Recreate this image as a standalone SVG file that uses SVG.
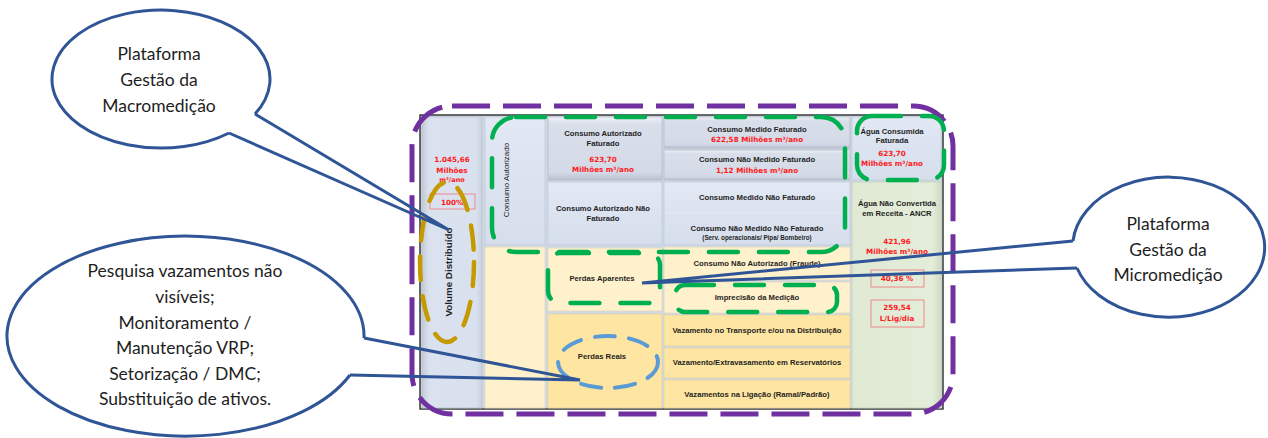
<svg xmlns="http://www.w3.org/2000/svg" width="1268" height="438" viewBox="0 0 1268 438">
<defs>
<linearGradient id="gBlue" x1="0" y1="0" x2="0" y2="1"><stop offset="0" stop-color="#e2e8f4"/><stop offset="1" stop-color="#d6deec"/></linearGradient>
<linearGradient id="gBev" x1="0" y1="0" x2="0" y2="1"><stop offset="0" stop-color="#eef1f7"/><stop offset="0.12" stop-color="#d9dfea"/><stop offset="0.88" stop-color="#d3d9e6"/><stop offset="1" stop-color="#b9c1cf"/></linearGradient>
<linearGradient id="gVol" x1="0" y1="0" x2="1" y2="0"><stop offset="0" stop-color="#c3cad6"/><stop offset="0.12" stop-color="#dbe2ef"/><stop offset="0.9" stop-color="#d9e0ee"/><stop offset="1" stop-color="#c9d1de"/></linearGradient>
<linearGradient id="gGreen" x1="0" y1="0" x2="1" y2="0"><stop offset="0" stop-color="#dfe9d4"/><stop offset="0.9" stop-color="#e3edd9"/><stop offset="1" stop-color="#d0dbc4"/></linearGradient>
</defs>
<style>
.frame{fill:#cfd8e4;stroke:#3a3a3a;stroke-width:1.5}
.blue{fill:url(#gBlue);stroke:#c3ccdb;stroke-width:0.8}
.bev{fill:url(#gBev);stroke:#b4bccb;stroke-width:0.8}
.cream{fill:#fff1cc;stroke:#e2d9bf;stroke-width:0.8}
.yel{fill:#fee6a2;stroke:#e0d2a6;stroke-width:0.8}
.lbl{font-family:"Liberation Sans",Arial,sans-serif;font-weight:bold;font-size:7.7px;fill:#1f1f1f;text-anchor:middle}
.sm{font-size:6.3px}
.vl{font-size:9.8px}
.val{font-family:"DejaVu Sans",Verdana,sans-serif;font-weight:bold;font-size:7.2px;fill:#ff1a1a;text-anchor:middle}
.vsm{font-size:6.5px}
.vbox{fill:none;stroke:#ee8a8a;stroke-width:1}
.purple{fill:none;stroke:#7030a0;stroke-width:5;stroke-dasharray:38 13}
.green{fill:none;stroke:#00b050;stroke-width:4.5;stroke-linecap:round;stroke-dasharray:29 21}
.gold{fill:none;stroke:#c49a00;stroke-width:4.5;stroke-linecap:round;stroke-dasharray:24 16}
.lblue{fill:none;stroke:#5b9bd5;stroke-width:4;stroke-linecap:round;stroke-dasharray:20 14}
.co{fill:none;stroke:#2f5597;stroke-width:3;stroke-linejoin:miter}
.ct{font-family:Lato,"Open Sans",sans-serif;font-size:17.5px;fill:#1e1e1e;text-anchor:middle}
</style>
<rect width="1268" height="438" fill="#ffffff"/>

<g id="table">
<rect class="frame" x="420" y="115" width="523" height="294"/>
</g>

<g id="volume-distribuido">
<rect x="422" y="117" width="60" height="291" fill="url(#gVol)" stroke="#b9c2d0" stroke-width="0.8"/>
<text class="val" x="452" y="162">1.045,66</text>
<text class="val" x="452" y="173">Milhões</text>
<text class="val vsm" x="452" y="182">m³/ano</text>
<rect class="vbox" x="430" y="194" width="45" height="15"/>
<text class="val" x="452" y="204.5">100%</text>
<text class="lbl vl" transform="translate(452,272) rotate(-90)">Volume Distribuído</text>
</g>

<g id="consumo-autorizado">
<rect class="blue" x="485" y="117" width="60" height="128"/>
<text font-family="Liberation Sans,Arial,sans-serif" font-size="8" fill="#222" text-anchor="middle" transform="translate(509,180) rotate(-90)">Consumo Autorizado</text>
</g>
<g id="perdas-col">
<rect class="cream" x="485" y="247" width="60" height="161"/>
</g>

<g id="consumo-autorizado-faturado">
<rect class="bev" x="548" y="117" width="114" height="63"/>
<text class="lbl" x="603" y="136">Consumo Autorizado</text>
<text class="lbl" x="603" y="146">Faturado</text>
<text class="val" x="603" y="162">623,70</text>
<text class="val" x="603" y="172">Milhões m³/ano</text>
</g>
<g id="consumo-autorizado-nao-faturado">
<rect class="blue" x="548" y="182" width="114" height="63"/>
<text class="lbl" x="603" y="211">Consumo Autorizado Não</text>
<text class="lbl" x="603" y="221">Faturado</text>
</g>
<g id="perdas-aparentes">
<rect class="cream" x="548" y="248" width="114" height="63"/>
<text class="lbl" x="602" y="281">Perdas Aparentes</text>
</g>
<g id="perdas-reais">
<rect class="yel" x="548" y="314" width="114" height="94"/>
<text class="lbl" x="602" y="359">Perdas Reais</text>
</g>

<g id="consumo-medido-faturado">
<rect class="bev" x="664" y="117" width="186" height="31"/>
<text class="lbl" x="757" y="132">Consumo Medido Faturado</text>
<text class="val" x="757" y="142">622,58 Milhões m³/ano</text>
</g>
<g id="consumo-nao-medido-faturado">
<rect class="bev" x="664" y="150" width="186" height="30"/>
<text class="lbl" x="757" y="162">Consumo Não Medido Faturado</text>
<text class="val" x="757" y="173">1,12 Milhões m³/ano</text>
</g>
<g id="consumo-nao-faturado">
<rect class="blue" x="664" y="182" width="186" height="63"/>
<line x1="666" y1="213" x2="848" y2="213" stroke="#e6ebf5" stroke-width="1"/>
<text class="lbl" x="757" y="200">Consumo Medido Não Faturado</text>
<text class="lbl" x="757" y="231">Consumo Não Medido Não Faturado</text>
<text class="lbl sm" x="757" y="240">(Serv. operacionais/ Pipa/ Bombeiro)</text>
</g>
<g id="consumo-nao-autorizado">
<rect class="cream" x="664" y="247" width="186" height="33"/>
<text class="lbl" x="757" y="266">Consumo Não Autorizado (Fraude)</text>
</g>
<g id="imprecisao-medicao">
<rect class="cream" x="664" y="282" width="186" height="31"/>
<text class="lbl" x="757" y="300">Imprecisão da Medição</text>
</g>
<g id="vazamento-transporte">
<rect class="yel" x="664" y="315" width="186" height="31"/>
<text class="lbl" x="757" y="333">Vazamento no Transporte e/ou na Distribuição</text>
</g>
<g id="vazamento-reservatorios">
<rect class="yel" x="664" y="348" width="186" height="30"/>
<text class="lbl" x="757" y="365">Vazamento/Extravasamento em Reservatórios</text>
</g>
<g id="vazamento-ligacao">
<rect class="yel" x="664" y="380" width="186" height="28"/>
<text class="lbl" x="757" y="397">Vazamentos na Ligação (Ramal/Padrão)</text>
</g>

<g id="agua-consumida-faturada">
<rect class="blue" x="852" y="117" width="89" height="63"/>
<text class="lbl" x="892" y="134">Água Consumida</text>
<text class="lbl" x="892" y="143">Faturada</text>
<text class="val" x="892" y="156">623,70</text>
<text class="val" x="892" y="166">Milhões m³/ano</text>
</g>
<g id="ancr">
<rect x="852" y="182" width="89" height="226" fill="url(#gGreen)" stroke="#c5d1b8" stroke-width="0.8"/>
<text class="lbl" x="897" y="206">Água Não Convertida</text>
<text class="lbl" x="897" y="216">em Receita - ANCR</text>
<text class="val" x="897" y="244">421,96</text>
<text class="val" x="897" y="254">Milhões m³/ano</text>
<rect class="vbox" x="871" y="270" width="53" height="17"/>
<text class="val" x="897" y="281">40,36 %</text>
<rect class="vbox" x="871" y="300" width="53" height="27"/>
<text class="val" x="897" y="310">259,54</text>
<text class="val" x="897" y="321">L/Lig/dia</text>
</g>

<g id="highlights">
<rect class="purple" x="412" y="106" width="541" height="308" rx="40"/>
<rect class="green" x="492" y="117" width="353" height="135" rx="24"/>
<rect class="green" x="857" y="116" width="87" height="64" rx="15"/>
<rect class="green" x="548" y="253" width="112" height="50" rx="12"/>
<rect class="green" x="675" y="285" width="162" height="27" rx="10"/>
<ellipse class="gold" cx="447" cy="262" rx="27" ry="80"/>
<ellipse class="lblue" cx="608" cy="362" rx="50" ry="26"/>
</g>

<g id="callout-macromedicao">
<path class="co" d="M255 114 A109 69 0 1 0 229 133"/>
<text class="ct" x="159" y="60">Plataforma</text>
<text class="ct" x="159" y="86">Gestão da</text>
<text class="ct" x="159" y="112">Macromedição</text>
</g>

<g id="callout-perdas-reais">
<path class="co" d="M364 338 A178.5 100 0 1 0 350 375"/>
<text class="ct" x="185" y="277">Pesquisa vazamentos não</text>
<text class="ct" x="185" y="303">visíveis;</text>
<text class="ct" x="185" y="329">Monitoramento /</text>
<text class="ct" x="185" y="354">Manutenção VRP;</text>
<text class="ct" x="185" y="380">Setorização / DMC;</text>
<text class="ct" x="185" y="405">Substituição de ativos.</text>
</g>

<g id="callout-micromedicao">
<path class="co" d="M1073 241 A96 70 0 1 1 1077 268"/>
<text class="ct" x="1168" y="230">Plataforma</text>
<text class="ct" x="1168" y="255.5">Gestão da</text>
<text class="ct" x="1168" y="281">Micromedição</text>
</g>

<g id="connectors">
<path class="co" d="M255 114 L449 230 L229 133"/>
<path class="co" d="M364 338 L580 380 L350 375"/>
<path class="co" d="M1073 241 L642 283 L1077 268"/>
</g>
</svg>
